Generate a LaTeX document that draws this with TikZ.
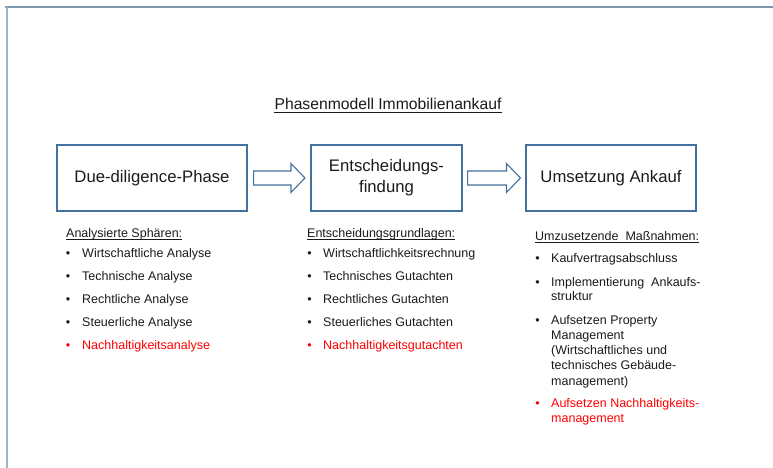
\documentclass[tikz,border=0pt]{standalone}
\usepackage{fontspec}
\setmainfont{Liberation Sans}
\usetikzlibrary{calc}
\definecolor{boxblue}{HTML}{41719C}
\definecolor{frametop}{HTML}{7C98AE}
\definecolor{frameleft}{HTML}{A2B4C3}
\definecolor{txt}{HTML}{1A1A1A}
\definecolor{redtxt}{HTML}{FF0000}
\newcommand\itemfont{\fontsize{12.5}{15}\selectfont}
\newcommand\boxfont{\fontsize{16.7}{21}\selectfont}
\newcommand\titlefont{\fontsize{15.7}{18}\selectfont}
\tikzset{
  phasebox/.style={draw=boxblue, line width=1.1pt, minimum height=66pt, inner sep=0pt, font=\boxfont, text=txt, align=center},
  blockarrow/.style={draw=boxblue, line width=1.1pt, fill=white, line join=miter},
  itemtxt/.style={anchor=base west, inner sep=0pt, font=\itemfont, text=txt},
  bul/.style={anchor=base, inner sep=0pt, font=\itemfont, text=txt},
  redit/.style={text=redtxt},
  uline/.style={draw=txt, line width=0.8pt},
  framel/.style={line width=2pt}
}
\begin{document}
\begin{tikzpicture}[x=1pt,y=-1pt]
\useasboundingbox (0,0) rectangle (773,468);
% frame
\coordinate (ftl) at (5,7);
\coordinate (ftr) at (773,7);
\coordinate (fbl) at (6.5,468);
\draw[framel, frametop] (ftl) -- (ftr);
\draw[framel, frameleft] ($(ftl)+(1.5,0)$) -- (fbl);
% title
\node[anchor=base, inner sep=0pt, font=\titlefont, text=txt] (title) at (388,110) {Phasenmodell Immobilienankauf};
\draw[uline] ($(title.base west)+(0,2.2)$) -- ($(title.base east)+(0,2.2)$);
% boxes
\node[phasebox, minimum width=190pt] (b1) at (152,178) {Due-diligence-Phase};
\node[phasebox, minimum width=151pt] (b2) at (386.5,178) {Entscheidungs-\\findung};
\node[phasebox, minimum width=170pt] (b3) at (611,178) {Umsetzung Ankauf};
% block arrows
\draw[blockarrow] ($(b1.east)+(6,-7)$) -- ($(b2.west)+(-19.5,-7)$) -- ($(b2.west)+(-19.5,-14.5)$) -- ($(b2.west)+(-5.5,0)$) -- ($(b2.west)+(-19.5,14.5)$) -- ($(b2.west)+(-19.5,7)$) -- ($(b1.east)+(6,7)$) -- cycle;
\draw[blockarrow] ($(b2.east)+(5,-7)$) -- ($(b3.west)+(-19,-7)$) -- ($(b3.west)+(-19,-14.5)$) -- ($(b3.west)+(-5,0)$) -- ($(b3.west)+(-19,14.5)$) -- ($(b3.west)+(-19,7)$) -- ($(b2.east)+(5,7)$) -- cycle;
% column 1
\node[itemtxt] (h1) at (66,237.5) {Analysierte Sphären:};
\draw[uline] ($(h1.base west)+(0,2)$) -- ($(h1.base east)+(0,2)$);
\node[bul] (p1a) at (68,257.5) {•};
\node[itemtxt] (t1a) at (82,257.5) {Wirtschaftliche Analyse};
\node[bul] (p1b) at (68,280.5) {•};
\node[itemtxt] (t1b) at (82,280.5) {Technische Analyse};
\node[bul] (p1c) at (68,303.5) {•};
\node[itemtxt] (t1c) at (82,303.5) {Rechtliche Analyse};
\node[bul] (p1d) at (68,326.5) {•};
\node[itemtxt] (t1d) at (82,326.5) {Steuerliche Analyse};
\node[bul, redit] (p1e) at (68,349.5) {•};
\node[itemtxt, redit] (t1e) at (82,349.5) {Nachhaltigkeitsanalyse};
% column 2
\node[itemtxt] (h2) at (307,237.5) {Entscheidungsgrundlagen:};
\draw[uline] ($(h2.base west)+(0,2)$) -- ($(h2.base east)+(0,2)$);
\node[bul] (p2a) at (309.5,257.5) {•};
\node[itemtxt] (t2a) at (323,257.5) {Wirtschaftlichkeitsrechnung};
\node[bul] (p2b) at (309.5,280.5) {•};
\node[itemtxt] (t2b) at (323,280.5) {Technisches Gutachten};
\node[bul] (p2c) at (309.5,303.5) {•};
\node[itemtxt] (t2c) at (323,303.5) {Rechtliches Gutachten};
\node[bul] (p2d) at (309.5,326.5) {•};
\node[itemtxt] (t2d) at (323,326.5) {Steuerliches Gutachten};
\node[bul, redit] (p2e) at (309.5,349.5) {•};
\node[itemtxt, redit] (t2e) at (323,349.5) {Nachhaltigkeitsgutachten};
% column 3
\node[itemtxt] (h3) at (535,240.5) {Umzusetzende\ \ Maßnahmen:};
\draw[uline] ($(h3.base west)+(0,2)$) -- ($(h3.base east)+(0,2)$);
\node[bul] (p3a) at (537.5,262.5) {•};
\node[itemtxt] (t3a) at (551,262.5) {Kaufvertragsabschluss};
\node[bul] (p3b) at (537.5,286) {•};
\node[itemtxt] (t3b1) at (551,286) {Implementierung\ \ Ankaufs-};
\node[itemtxt] (t3b2) at (551,300.5) {struktur};
\node[bul] (p3c) at (537.5,324.5) {•};
\node[itemtxt] (t3c1) at (551,324.5) {Aufsetzen Property};
\node[itemtxt] (t3c2) at (551,339.5) {Management};
\node[itemtxt] (t3c3) at (551,354.5) {(Wirtschaftliches und};
\node[itemtxt] (t3c4) at (551,369.5) {technisches Gebäude-};
\node[itemtxt] (t3c5) at (551,385) {management)};
\node[bul, redit] (p3d) at (537.5,407.5) {•};
\node[itemtxt, redit] (t3d1) at (551,407.5) {Aufsetzen Nachhaltigkeits-};
\node[itemtxt, redit] (t3d2) at (551,422.5) {management};
\end{tikzpicture}
\end{document}
